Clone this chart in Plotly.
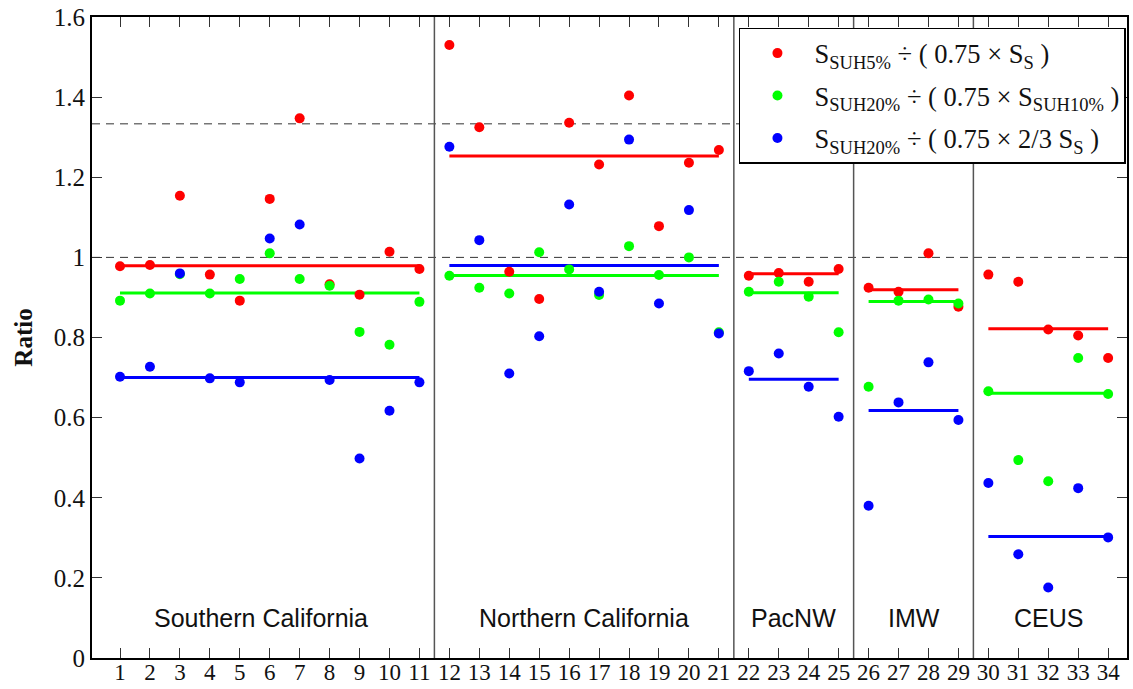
import plotly.graph_objects as go

# ---------------- data ----------------
site_ids = list(range(1, 35))
tick_labels = [str(i) for i in site_ids]

ratio_red = [0.978, 0.981, 1.154, 0.957, 0.892, 1.146, 1.347, 0.933, 0.907, 1.014, 0.971,
             1.530, 1.325, 0.964, 0.896, 1.336, 1.232, 1.404, 1.078, 1.236, 1.268,
             0.954, 0.961, 0.939, 0.971,
             0.924, 0.914, 1.010, 0.877,
             0.957, 0.939, 0.820, 0.805, 0.749]
ratio_green = [0.892, 0.910, 0.958, 0.910, 0.946, 1.010, 0.946, 0.929, 0.814, 0.782, 0.889,
               0.954, 0.924, 0.910, 1.013, 0.970, 0.906, 1.028, 0.956, 1.000, 0.813,
               0.914, 0.939, 0.902, 0.813,
               0.677, 0.892, 0.895, 0.885,
               0.666, 0.494, 0.441, 0.749, 0.659]
ratio_blue = [0.702, 0.727, 0.960, 0.698, 0.688, 1.047, 1.082, 0.694, 0.498, 0.617, 0.688,
              1.276, 1.043, 0.710, 0.803, 1.132, 0.914, 1.294, 0.885, 1.118, 0.810,
              0.716, 0.760, 0.677, 0.602,
              0.380, 0.638, 0.738, 0.594,
              0.437, 0.259, 0.176, 0.424, 0.301]

regions = ["Southern California", "Northern California", "PacNW", "IMW", "CEUS"]
region_first = [1, 12, 22, 26, 30]
region_last = [11, 21, 25, 29, 34]
region_label_x = [5.7, 16.5, 23.5, 27.5, 32.0]
median_red = [0.979, 1.253, 0.959, 0.919, 0.822]
median_green = [0.911, 0.955, 0.912, 0.890, 0.661]
median_blue = [0.700, 0.980, 0.696, 0.618, 0.303]

reference_levels = [1.0, 4 / 3]
separators = [11.5, 21.5, 25.5, 29.5]

names = [
    "S<sub>SUH5%</sub> ÷ ( 0.75 × S<sub>S</sub> )",
    "S<sub>SUH20%</sub> ÷ ( 0.75 × S<sub>SUH10%</sub> )",
    "S<sub>SUH20%</sub> ÷ ( 0.75 × 2/3 S<sub>S</sub> )",
]
colors = ["#ff0000", "#00ff00", "#0000ff"]
series = [ratio_red, ratio_green, ratio_blue]
medians = [median_red, median_green, median_blue]

# ---------------- figure ----------------
fig = go.Figure()

for med, col in zip(medians, colors):
    for a, b, m in zip(region_first, region_last, med):
        fig.add_trace(go.Scatter(x=[a, b], y=[m, m], mode="lines",
                                 line=dict(color=col, width=3),
                                 showlegend=False, hoverinfo="skip"))

for vals, col, nm in zip(series, colors, names):
    fig.add_trace(go.Scatter(x=site_ids, y=vals, mode="markers", name=nm,
                             legendgroup=nm,
                             marker=dict(color=col, size=10, line=dict(width=0))))

shapes = []
for lv in reference_levels:
    shapes.append(dict(type="line", xref="paper", x0=0, x1=1, yref="y", y0=lv, y1=lv,
                       line=dict(color="#333333", width=1, dash="8px,6px"), layer="below"))
for s in separators:
    shapes.append(dict(type="line", xref="x", x0=s, x1=s, yref="paper", y0=0, y1=1,
                       line=dict(color="#555555", width=1.5), layer="below"))

annotations = []
for lab, xp in zip(regions, region_label_x):
    annotations.append(dict(x=xp, y=0.1, xref="x", yref="y", text=lab, showarrow=False,
                            font=dict(family="Liberation Sans, Arial", size=25, color="#111111"),
                            xanchor="center", yanchor="middle"))

serif = "Liberation Serif, Times New Roman, serif"
fig.update_layout(
    width=1133, height=689,
    margin=dict(l=92, r=6, t=17, b=31, autoexpand=False),
    plot_bgcolor="white", paper_bgcolor="white",
    shapes=shapes, annotations=annotations,
    font=dict(family=serif, size=25, color="#111111"),
    legend=dict(x=0.999, y=0.983, xanchor="right", yanchor="top",
                bgcolor="white", bordercolor="black", borderwidth=1.5,
                font=dict(family=serif, size=26.5, color="#111111"),
                itemwidth=64, tracegroupgap=5),
    showlegend=True,
)
fig.update_xaxes(range=[0.065, 34.63], tickmode="array", tickvals=site_ids, ticktext=tick_labels,
                 ticks="inside", ticklen=10, tickwidth=1, tickcolor="#333333",
                 showline=True, linecolor="black", linewidth=2, mirror="ticks",
                 showgrid=False, zeroline=False, automargin=False,
                 ticklabelstandoff=-8,
                 tickfont=dict(family=serif, size=23))
fig.update_yaxes(range=[0, 1.6], tickmode="array", tickvals=[0, 0.2, 0.4, 0.6, 0.8, 1.0, 1.2, 1.4, 1.6],
                 ticktext=["0", "0.2", "0.4", "0.6", "0.8", "1", "1.2", "1.4", "1.6"],
                 ticks="inside", ticklen=10, tickwidth=1, tickcolor="#333333",
                 showline=True, linecolor="black", linewidth=2, mirror="ticks",
                 showgrid=False, zeroline=False, automargin=False,
                 tickfont=dict(family=serif, size=25),
                 title=dict(text="<b>Ratio</b>", font=dict(family=serif, size=25), standoff=14))

fig.write_html("out.html", config={"displayModeBar": False},
               post_script="document.body.style.margin='0px';document.body.style.overflow='hidden';")
